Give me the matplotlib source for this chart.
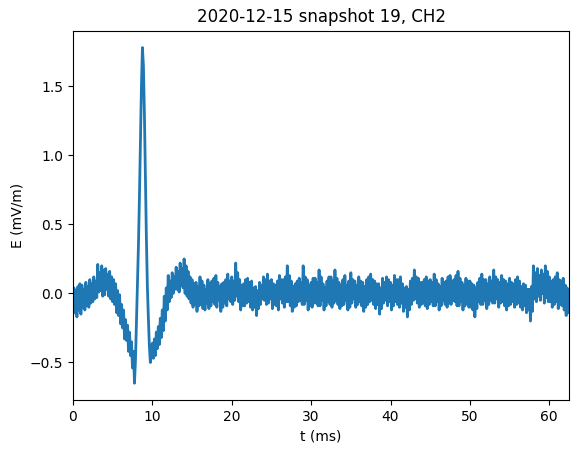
import matplotlib
matplotlib.use("Agg")
import matplotlib.pyplot as plt
import numpy as np

# sampling step of the trace (ms)
dt = 0.125

# E field on CH2 (mV/m), one value per dt
e_field = [
    # 0 - 4.875 ms
    -0.08, 0.04, -0.14, 0.02, -0.17, 0.05, -0.12, 0.07,
    -0.15, 0.06, -0.10, 0.03, -0.12, 0.08, -0.09, 0.05,
    -0.10, 0.10, -0.07, 0.07, -0.06, 0.12, -0.04, 0.09,
    -0.03, 0.21, 0.01, 0.15, 0.02, 0.20, -0.02, 0.17,
    -0.01, 0.18, 0.03, 0.14, -0.02, 0.16, -0.04, 0.12,
    # 5 - 9.875 ms
    -0.06, 0.10, -0.08, 0.07, -0.14, 0.02, -0.16, -0.01,
    -0.22, -0.08, -0.25, -0.12, -0.33, -0.19, -0.34, -0.23,
    -0.42, -0.28, -0.45, -0.35, -0.54, -0.42, -0.65, -0.48,
    -0.20, 0.05, 0.35, 0.70, 1.10, 1.50, 1.78, 1.65,
    1.30, 0.85, 0.40, 0.05, -0.18, -0.38, -0.50, -0.40,
    # 10 - 14.875 ms
    -0.36, -0.47, -0.33, -0.45, -0.28, -0.40, -0.24, -0.37,
    -0.18, -0.32, -0.12, -0.27, -0.02, -0.20, 0.04, -0.12,
    0.13, -0.06, 0.09, -0.03, 0.15, 0.00, 0.12, 0.03,
    0.19, 0.03, 0.16, 0.01, 0.22, 0.06, 0.18, 0.04,
    0.25, 0.00, 0.20, -0.02, 0.16, -0.04, 0.12, -0.07,
    # 15 - 19.875 ms
    0.10, -0.10, 0.07, -0.08, 0.08, -0.13, 0.05, -0.09,
    0.12, -0.08, 0.09, -0.11, 0.06, -0.12, 0.03, -0.07,
    0.10, -0.11, 0.07, -0.09, 0.09, -0.06, 0.11, -0.08,
    0.13, -0.10, 0.08, -0.05, 0.05, -0.13, 0.07, -0.10,
    0.08, -0.07, 0.10, -0.09, 0.14, -0.04, 0.09, -0.06,
    # 20 - 24.875 ms
    0.12, -0.08, 0.09, -0.05, 0.22, -0.02, 0.15, -0.06,
    0.10, -0.12, 0.06, -0.09, 0.07, -0.09, 0.10, -0.07,
    0.11, -0.06, 0.08, -0.10, 0.09, -0.12, 0.04, -0.10,
    0.05, -0.16, 0.02, -0.11, 0.08, -0.08, 0.06, -0.04,
    0.12, -0.05, 0.10, -0.08, 0.14, -0.07, 0.09, -0.04,
    # 25 - 29.875 ms
    0.10, -0.11, 0.07, -0.08, 0.06, -0.09, 0.09, -0.12,
    0.13, -0.04, 0.10, -0.07, 0.10, -0.10, 0.12, -0.06,
    0.20, -0.06, 0.13, -0.09, 0.09, -0.13, 0.05, -0.10,
    0.07, -0.09, 0.09, -0.06, 0.11, -0.05, 0.08, -0.08,
    0.20, -0.08, 0.12, -0.05, 0.10, -0.12, 0.06, -0.09,
    # 30 - 34.875 ms
    0.08, -0.10, 0.11, -0.07, 0.11, -0.07, 0.08, -0.09,
    0.17, -0.09, 0.12, -0.05, 0.07, -0.12, 0.04, -0.09,
    0.09, -0.06, 0.12, -0.08, 0.12, -0.10, 0.09, -0.07,
    0.17, -0.05, 0.11, -0.08, 0.08, -0.11, 0.06, -0.09,
    0.10, -0.08, 0.13, -0.05, 0.06, -0.12, 0.09, -0.10,
    # 35 - 39.875 ms
    0.15, -0.07, 0.10, -0.04, 0.09, -0.10, 0.06, -0.08,
    0.12, -0.06, 0.09, -0.09, 0.08, -0.13, 0.05, -0.10,
    0.10, -0.08, 0.12, -0.06, 0.14, -0.05, 0.10, -0.08,
    0.09, -0.11, 0.07, -0.08, 0.07, -0.15, 0.04, -0.11,
    0.11, -0.07, 0.08, -0.05, 0.12, -0.09, 0.10, -0.06,
    # 40 - 44.875 ms
    0.08, -0.12, 0.06, -0.09, 0.13, -0.06, 0.10, -0.08,
    0.10, -0.10, 0.12, -0.07, 0.07, -0.13, 0.04, -0.10,
    0.05, -0.17, 0.03, -0.12, 0.09, -0.08, 0.11, -0.05,
    0.17, -0.04, 0.12, -0.07, 0.11, -0.10, 0.08, -0.08,
    0.08, -0.07, 0.10, -0.09, 0.12, -0.11, 0.09, -0.08,
    # 45 - 49.875 ms
    0.10, -0.06, 0.08, -0.09, 0.14, -0.09, 0.10, -0.06,
    0.07, -0.12, 0.05, -0.09, 0.11, -0.05, 0.08, -0.08,
    0.09, -0.10, 0.12, -0.07, 0.13, -0.08, 0.09, -0.05,
    0.10, -0.06, 0.13, -0.09, 0.16, -0.09, 0.11, -0.06,
    0.08, -0.12, 0.06, -0.09, 0.11, -0.07, 0.09, -0.10,
    # 50 - 54.875 ms
    0.09, -0.10, 0.07, -0.12, 0.06, -0.17, 0.04, -0.11,
    0.08, -0.06, 0.11, -0.08, 0.14, -0.08, 0.10, -0.05,
    0.10, -0.11, 0.07, -0.08, 0.12, -0.05, 0.09, -0.07,
    0.17, -0.07, 0.12, -0.04, 0.10, -0.10, 0.08, -0.07,
    0.13, -0.06, 0.10, -0.09, 0.09, -0.12, 0.07, -0.09,
    # 55 - 59.875 ms
    0.11, -0.08, 0.08, -0.06, 0.07, -0.10, 0.10, -0.08,
    0.12, -0.07, 0.09, -0.10, 0.05, -0.12, 0.07, -0.09,
    0.06, -0.14, 0.03, -0.12, 0.03, -0.20, 0.05, -0.13,
    0.20, -0.04, 0.15, -0.06, 0.18, -0.02, 0.13, -0.05,
    0.17, 0.00, 0.14, -0.07, 0.20, -0.03, 0.16, -0.06,
    # 60 - 62.5 ms
    0.12, -0.06, 0.09, -0.10, 0.10, -0.08, 0.12, -0.06,
    0.15, -0.11, 0.10, -0.08, 0.09, -0.09, 0.11, -0.12,
    0.06, -0.16, 0.04, -0.14, -0.12,
]

t_ms = np.arange(len(e_field)) * dt

fig = plt.figure(figsize=(5.79, 4.53), dpi=100)
ax = fig.add_axes([0.126, 0.117, 0.857, 0.815])
ax.plot(t_ms, e_field, linewidth=2.0)
ax.set_xlim(t_ms[0], t_ms[-1])
ax.set_xlabel("t (ms)")
ax.set_ylabel("E (mV/m)")
ax.set_title("2020-12-15 snapshot 19, CH2")

fig.savefig("out.png", dpi=100)
